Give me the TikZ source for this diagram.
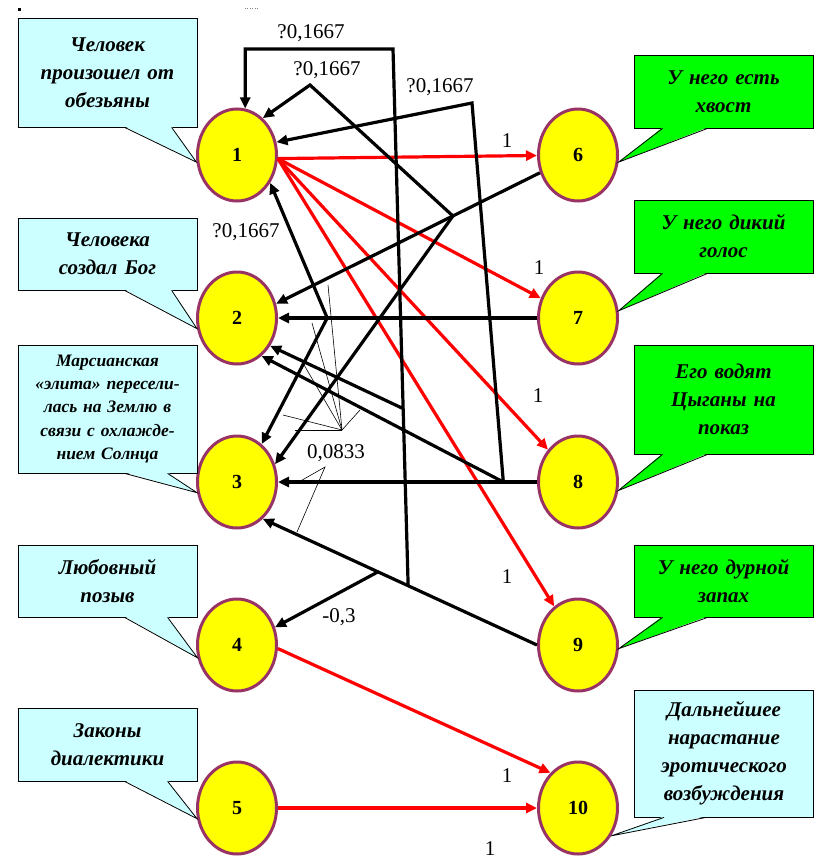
\documentclass[tikz,border=0pt]{standalone}
\usepackage{fontspec}
\setmainfont{Liberation Serif}
\usetikzlibrary{shapes.geometric}
\usetikzlibrary{arrows.meta}
\definecolor{node-plum}{HTML}{993366}
\definecolor{node-yellow}{HTML}{FFFF00}
\definecolor{note-cyan}{HTML}{CCFFFF}
\definecolor{note-green}{HTML}{00FF00}
\definecolor{link-red}{HTML}{FF0000}
\tikzset{
  concept/.style={ellipse, draw=node-plum, line width=3pt, fill=node-yellow,
    minimum width=79pt, minimum height=92pt, inner sep=0pt,
    font=\fontsize{20}{24}\selectfont\bfseries},
  note/.style={rectangle, draw, line width=0.8pt, fill=#1,
    minimum width=179pt, text width=175pt, align=center, inner sep=0pt,
    font=\fontsize{21}{28}\selectfont\bfseries\itshape},
  cause/.style={line width=3.2pt, draw=link-red, -{Triangle[length=11pt,width=10pt]}},
  influence/.style={line width=3.2pt, -{Triangle[length=11pt,width=10pt]}},
  weight/.style={font=\fontsize{21}{24}\selectfont, inner sep=0pt},
  leader/.style={line width=0.6pt},
}
% tail of a note: box, colour, left and right end of its base, tip
\newcommand{\notetail}[5]{%
\fill[#2] ([xshift=#3,yshift=1pt]#1.south west) -- ([xshift=#4,yshift=1pt]#1.south west) -- (#5) -- cycle;
\draw[line width=0.8pt] ([xshift=#3]#1.south west) -- (#5) -- ([xshift=#4]#1.south west);
}
\begin{document}
\begin{tikzpicture}[x=1pt, y=-1pt]
\useasboundingbox[fill=white] (0,0) rectangle (815,859);
% stray marks
\fill (18,8) rectangle (21,11);
\draw[gray, dotted] (245,8) -- (258,8);
% concepts
\foreach \i/\y in {1/155,2/318,3/482,4/645,5/808} {
  \node[concept] (n\i) at (237,\y) {\i};
}
\foreach \i/\y in {6/155,7/318,8/482,9/645,10/808} {
  \node[concept] (n\i) at (578,\y) {\i};
}
% notes
\node[note=note-cyan, minimum height=109pt] (c1) at (107.5,72.5) {Человек\\произошел от\\обезьяны};
\node[note=note-cyan, minimum height=72pt] (c2) at (107.5,254) {Человека\\создал Бог};
\node[note=note-cyan, minimum height=128pt,
  font=\fontsize{17.5}{23.3}\selectfont\bfseries\itshape] (c3) at (107.5,409) {Марсианская\\«элита» пересели-\\лась на Землю в\\связи с охлажде-\\нием Солнца};
\node[note=note-cyan, minimum height=72pt] (c4) at (107.5,581) {Любовный\\позыв};
\node[note=note-cyan, minimum height=73pt] (c5) at (107.5,744.5) {Законы\\диалектики};
\node[note=note-green, minimum height=73pt] (c6) at (723.5,91.5) {У него есть\\хвост};
\node[note=note-green, minimum height=73pt] (c7) at (723.5,236.5) {У него дикий\\голос};
\node[note=note-green, minimum height=109pt] (c8) at (723.5,399.5) {Его водят\\Цыганы на\\показ};
\node[note=note-green, minimum height=72pt] (c9) at (723.5,581) {У него дурной\\запах};
\node[note=note-cyan, minimum height=127pt] (c10) at (724,753.5) {Дальнейшее\\нарастание\\эротического\\возбуждения};
\notetail{c1}{note-cyan}{107pt}{154pt}{n1.190}
\notetail{c2}{note-cyan}{107pt}{154pt}{n2.195}
\notetail{c3}{note-cyan}{107pt}{150pt}{n3.195}
\notetail{c4}{note-cyan}{107pt}{150pt}{n4.198}
\notetail{c5}{note-cyan}{107pt}{150pt}{n5.195}
\notetail{c6}{note-green}{29pt}{74pt}{n6.-10}
\notetail{c7}{note-green}{29pt}{74pt}{n7.10}
\notetail{c8}{note-green}{29pt}{74pt}{n8.-12}
\notetail{c9}{note-green}{29pt}{74pt}{n9.-5}
\notetail{c10}{note-cyan}{30pt}{72pt}{n10.-40}
% red links
\draw[cause] (n1.-5) -- (n6);
\draw[cause] (n1.-5) -- (n7);
\draw[cause] (n1.-5) -- (n8);
\draw[cause] (n1.-5) -- (n9);
\draw[cause] (n4.-5) -- (n10.128);
\draw[cause] (n5) -- (n10);
% black links
\draw[influence] (n6.205) -- coordinate[pos=0.33] (q6) (n2.20);
\draw[influence] (n7) -- coordinate[pos=0.81] (r7) (n2);
\draw[influence] (n8) -- coordinate[pos=0.13] (p8) (n3);
\draw[influence] (n9.180) -- coordinate[pos=0.47] (v9) coordinate[pos=0.58] (m9) (n3.-55);
% links from links
\coordinate (a6) at (310,85);
\coordinate (a8) at (472,103);
\coordinate (a9) at (393,49);
\draw[influence] (q6) -- (a6) -- (n1.55);
\draw[influence] (q6) -- (n3.25);
\draw[influence] (r7) -- (n1.-40);
\draw[influence] (r7) -- (n3.57);
\draw[influence] (p8) -- (a8) -- (n1.18);
\draw[influence] (p8) -- (n2.-57);
\draw[influence] (v9) -- coordinate[pos=0.33] (v2) (a9) -| (n1.80);
\draw[influence] (v2) -- (n2.-40);
\draw[influence] (m9) -- (n4.25);
% weights
\node[weight] (w1) at (311,33) {?0,1667};
\node[weight] (w2) at (327,70) {?0,1667};
\node[weight] (w3) at (440,87) {?0,1667};
\node[weight] (w4) at (246,232) {?0,1667};
\node[weight] (w5) at (336,453) {0,0833};
\node[weight] (w6) at (339,617) {-0,3};
\node[weight] (u6) at (507,141) {1};
\node[weight] (u7) at (539,268) {1};
\node[weight] (u8) at (538,396) {1};
\node[weight] (u9) at (507,577) {1};
\node[weight] (u10) at (507,776) {1};
\node[weight] (u11) at (490,849) {1};
% leaders of 0,0833
\coordinate (fan) at (342,430);
\foreach \p in {(328,285),(312,323),(300,358),(283,415),(295,430),(360,410)}
  \draw[leader] (fan) -- \p;
\coordinate (vee) at (325,467);
\draw[leader] (297,483) -- (vee) -- (297,532);
\end{tikzpicture}
\end{document}
